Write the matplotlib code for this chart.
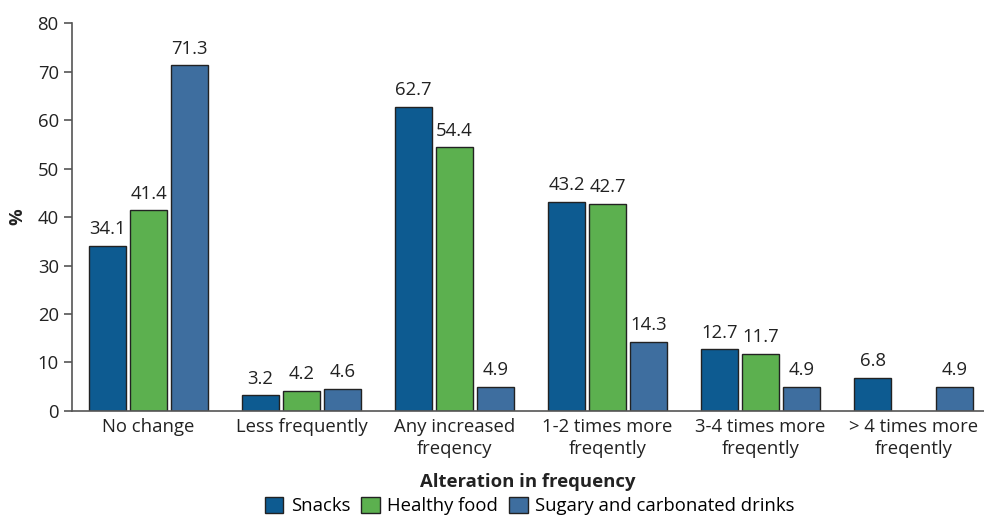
import numpy as np
import matplotlib
matplotlib.use('Agg')
import matplotlib.pyplot as plt

plt.rcParams['font.family'] = ['Open Sans', 'DejaVu Sans']

# 频率变化类别及三组数据
categories = ['No change', 'Less frequently', 'Any increased\nfreqency',
              '1-2 times more\nfreqently', '3-4 times more\nfreqently',
              '> 4 times more\nfreqently']
snacks = [34.1, 3.2, 62.7, 43.2, 12.7, 6.8]
healthy = [41.4, 4.2, 54.4, 42.7, 11.7, None]
sugary = [71.3, 4.6, 4.9, 14.3, 4.9, 4.9]

series = [('Snacks', snacks, '#0d5b91'),
          ('Healthy food', healthy, '#5cb04f'),
          ('Sugary and carbonated drinks', sugary, '#3e6e9f')]

fs = 13.3
fig = plt.figure(figsize=(9.84, 5.15), dpi=100)
ax = fig.add_axes([0.0732, 0.202, 0.9268, 0.753])

x = np.arange(len(categories))
width = 0.242
step = 0.268

for i, (name, vals, color) in enumerate(series):
    pos = x + (i - 1) * step
    for p, v in zip(pos, vals):
        if v is None:
            continue
        ax.bar(p, v, width, color=color, edgecolor='#222222', linewidth=1.0)
        ax.text(p, v + 1.6, f'{v}', ha='center', va='bottom', fontsize=fs, color='#222222')
    # 图例用的空柱
    ax.bar(0, 0, 0, color=color, edgecolor='#222222', linewidth=1.0, label=name)

ax.set_xlim(-0.5, 5.46)
ax.set_ylim(0, 80)
ax.set_yticks(range(0, 81, 10))
ax.set_xticks(x)
ax.set_xticklabels(categories, fontsize=fs, color='#222222', linespacing=1.3)
ax.tick_params(axis='x', length=0, pad=5)
ax.tick_params(axis='y', labelsize=fs, labelcolor='#222222', length=6, color='#555555', width=1.2)

for s in ['top', 'right']:
    ax.spines[s].set_visible(False)
for s in ['left', 'bottom']:
    ax.spines[s].set_color('#555555')
    ax.spines[s].set_linewidth(1.2)

ax.set_ylabel('%', fontsize=fs, fontweight='bold', color='#222222', labelpad=8)
ax.set_xlabel('Alteration in frequency', fontsize=fs, fontweight='bold', color='#222222', labelpad=11)

ax.legend(loc='center', bbox_to_anchor=(0.502, -0.245), ncol=3, frameon=False,
          fontsize=fs, handlelength=1.0, handleheight=1.0, handletextpad=0.4,
          columnspacing=0.6, borderaxespad=0, borderpad=0)

fig.savefig('out.png', dpi=100)
